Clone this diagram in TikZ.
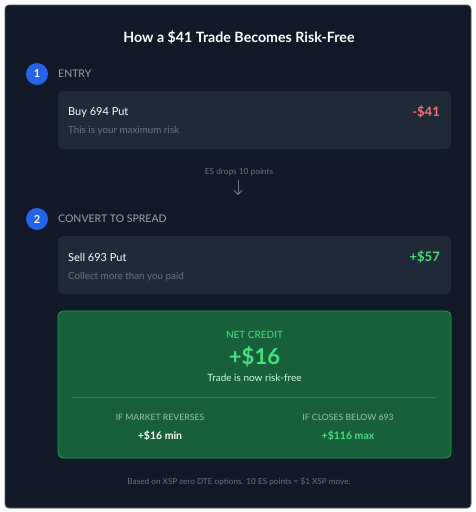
\documentclass[tikz,border=0pt]{standalone}
\usepackage{fontspec}
\setmainfont{Lato}
\usetikzlibrary{arrows.meta}
\definecolor{bgpanel}{HTML}{111827}
\definecolor{cardbg}{HTML}{1F2937}
\definecolor{panelborder}{HTML}{4B5563}
\definecolor{labelgray}{HTML}{9CA3AF}
\definecolor{subgray}{HTML}{6B7280}
\definecolor{stepblue}{HTML}{2563EB}
\definecolor{lossred}{HTML}{F87171}
\definecolor{gaingreen}{HTML}{4ADE80}
\definecolor{greenbox}{HTML}{17603A}
\definecolor{greenborder}{HTML}{22A04B}
\definecolor{greenline}{HTML}{1F8A45}
\definecolor{palegreen}{HTML}{D1FAE5}
\definecolor{mutedgreen}{HTML}{A3BFAE}
\tikzset{
  numcircle/.style={circle,fill=stepblue,minimum size=22pt,inner sep=0pt,text=white,font=\fontsize{11}{11}\selectfont\bfseries},
  steplabel/.style={anchor=west,text=labelgray,font=\fontsize{10.5}{11}\selectfont,inner sep=0pt},
  card/.style={fill=cardbg,rounded corners=5pt,draw=none},
  maintext/.style={anchor=west,text=white,font=\fontsize{11}{12}\selectfont,inner sep=0pt},
  subtext/.style={anchor=west,text=subgray,font=\fontsize{9.8}{10}\selectfont,inner sep=0pt},
  amount/.style={anchor=east,font=\fontsize{13}{13}\selectfont\bfseries,inner sep=0pt},
}
\begin{document}
\begin{tikzpicture}[x=1pt,y=-1pt]
\useasboundingbox (0,0) rectangle (476,512);
\fill[white] (0,0) rectangle (476,512);
\draw[fill=bgpanel,draw=panelborder,line width=0.8pt,rounded corners=4pt] (5,5) rectangle (471,508);
\node[text=white,font=\fontsize{14.2}{14}\selectfont\bfseries,inner sep=0pt] (title) at (239,37) {How a \$41 Trade Becomes Risk-Free};
% step 1
\node[numcircle] (c1) at (37,74) {1};
\node[steplabel] (l1) at (58,74) {ENTRY};
\fill[card] (58,91) rectangle (451,149);
\node[maintext] (m1) at (68,112) {Buy 694 Put};
\node[subtext] (s1) at (68,131) {This is your maximum risk};
\node[amount,text=lossred] (a1) at (440,112) {-\$41};
% arrow
\node[text=subgray,font=\fontsize{8.3}{8}\selectfont,inner sep=0pt] (drop) at (239,172) {ES drops 10 points};
\coordinate (arrtop) at (238,180);
\coordinate (arrbot) at (238,195);
\draw[subgray,line width=1pt,-{Straight Barb[length=4pt,width=8pt]}] (arrtop) -- (arrbot);
% step 2
\node[numcircle] (c2) at (37,219) {2};
\node[steplabel] (l2) at (58,219) {CONVERT TO SPREAD};
\fill[card] (58,236) rectangle (451,294);
\node[maintext] (m2) at (68,257) {Sell 693 Put};
\node[subtext] (s2) at (68,277) {Collect more than you paid};
\node[amount,text=gaingreen] (a2) at (440,257) {+\$57};
% green result box
\draw[fill=greenbox,draw=greenborder,line width=0.8pt,rounded corners=5pt] (58,311) rectangle (451,458);
\node[text=gaingreen,font=\fontsize{10}{10}\selectfont,inner sep=0pt] (nc) at (254.5,335) {NET CREDIT};
\node[text=gaingreen,font=\fontsize{22}{22}\selectfont\bfseries,inner sep=0pt] (big) at (254.5,357) {+\$16};
\node[text=palegreen,font=\fontsize{10}{10}\selectfont,inner sep=0pt] (rf) at (254.5,378) {Trade is now risk-free};
\coordinate (divl) at (72,397);
\coordinate (divr) at (437,397);
\draw[greenline,line width=0.8pt] (divl) -- (divr);
\node[text=mutedgreen,font=\fontsize{8.7}{9}\selectfont,inner sep=0pt] (h1) at (160,417) {IF MARKET REVERSES};
\node[text=mutedgreen,font=\fontsize{8.7}{9}\selectfont,inner sep=0pt] (h2) at (348,417) {IF CLOSES BELOW 693};
\node[text=white,font=\fontsize{10.5}{11}\selectfont\bfseries,inner sep=0pt] (v1) at (160,436) {+\$16 min};
\node[text=gaingreen,font=\fontsize{10.5}{11}\selectfont\bfseries,inner sep=0pt] (v2) at (348,436) {+\$116 max};
% footer
\node[text=subgray,font=\fontsize{8.2}{8}\selectfont,inner sep=0pt] (foot) at (239,482) {Based on XSP zero DTE options. 10 ES points ≈ \$1 XSP move.};
\end{tikzpicture}
\end{document}
